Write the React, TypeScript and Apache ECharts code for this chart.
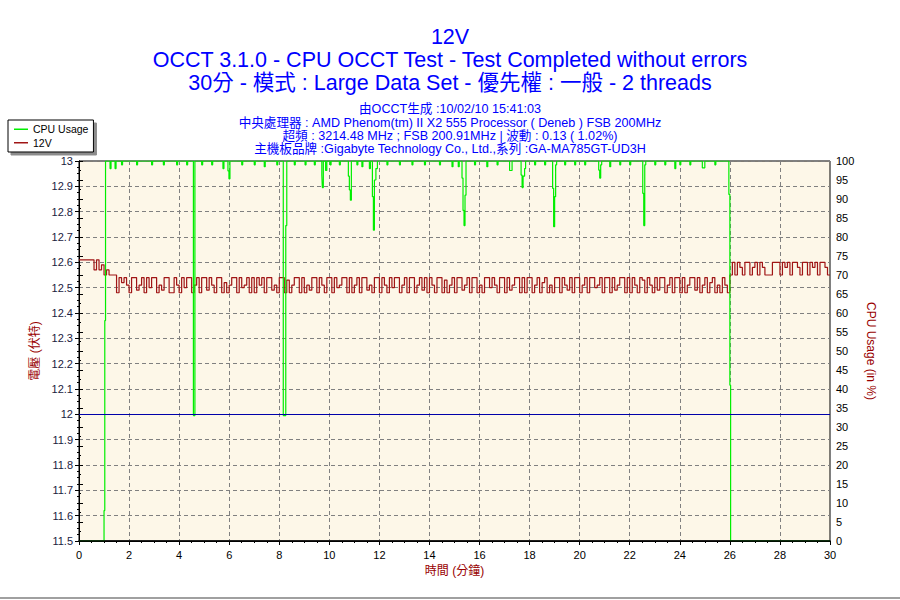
import React, { useEffect, useRef } from "react";
import * as echarts from "echarts";

const FONT = '"Liberation Sans", Arial, "Noto Sans CJK TC", sans-serif';

const titleLines = [
  "12V",
  "OCCT 3.1.0 - CPU OCCT Test - Test Completed without errors",
  "30分 - 模式 : Large Data Set - 優先權 : 一般 - 2 threads",
];
const infoLines = [
  "由OCCT生成 :10/02/10 15:41:03",
  "中央處理器 : AMD Phenom(tm) II X2 555 Processor ( Deneb ) FSB 200MHz",
  "超頻 : 3214.48 MHz ; FSB 200.91MHz | 波動 : 0.13 ( 1.02%)",
  "主機板品牌 :Gigabyte Technology Co., Ltd.,系列 :GA-MA785GT-UD3H",
];

const seriesNames = ["CPU Usage", "12V"];
const xAxisName = "時間 (分鐘)";
const leftAxisName = "電壓 (伏特)";
const rightAxisName = "CPU Usage (in %)";

// 12V readings, one every 0.1 minute from 0 to 30
const sampleStepMin = 0.1;
const volt12 = [
  12.61, 12.61, 12.61, 12.61, 12.61, 12.61, 12.57, 12.61, 12.57, 12.59,
  12.55, 12.57, 12.55, 12.55, 12.55,
  12.48, 12.54, 12.52, 12.54, 12.51,
  12.48, 12.54, 12.54, 12.49, 12.51, 12.54, 12.48, 12.54, 12.5, 12.54,
  12.54, 12.48, 12.51, 12.49, 12.54, 12.54, 12.48, 12.48, 12.54, 12.51,
  12.48, 12.54, 12.5, 12.54, 12.54, 12.48, 12.51, 12.54, 12.48, 12.54,
  12.54, 12.49, 12.54, 12.51, 12.48, 12.54, 12.54, 12.48, 12.52, 12.48,
  12.51, 12.54, 12.54, 12.48, 12.54, 12.5, 12.51, 12.54, 12.48, 12.54,
  12.48, 12.54, 12.51, 12.54, 12.48, 12.54, 12.54, 12.49, 12.51, 12.48,
  12.54, 12.54, 12.48, 12.53, 12.48, 12.51, 12.54, 12.54, 12.48, 12.54,
  12.48, 12.51, 12.49, 12.54, 12.54, 12.48, 12.54, 12.51, 12.48, 12.54,
  12.54, 12.48, 12.54, 12.5, 12.51, 12.54, 12.54, 12.48, 12.54, 12.48,
  12.51, 12.54, 12.48, 12.54, 12.54, 12.49, 12.51, 12.48, 12.54, 12.54,
  12.48, 12.54, 12.51, 12.48, 12.54, 12.5, 12.54, 12.54, 12.48, 12.51,
  12.54, 12.48, 12.54, 12.54, 12.48, 12.51, 12.54, 12.49, 12.54, 12.48,
  12.54, 12.51, 12.48, 12.54, 12.54, 12.48, 12.53, 12.48, 12.51, 12.54,
  12.48, 12.54, 12.54, 12.49, 12.51, 12.54, 12.48, 12.54, 12.54, 12.48,
  12.51, 12.48, 12.54, 12.54, 12.5, 12.54, 12.51, 12.48, 12.54, 12.54,
  12.48, 12.54, 12.49, 12.51, 12.54, 12.54, 12.48, 12.54, 12.48, 12.54,
  12.54, 12.48, 12.51, 12.54, 12.48, 12.52, 12.54, 12.48, 12.51, 12.48,
  12.54, 12.54, 12.48, 12.54, 12.51, 12.49, 12.54, 12.48, 12.54, 12.54,
  12.48, 12.51, 12.54, 12.48, 12.54, 12.54, 12.5, 12.51, 12.54, 12.48,
  12.54, 12.54, 12.48, 12.54, 12.49, 12.51, 12.54, 12.54, 12.48, 12.54,
  12.48, 12.54, 12.51, 12.48, 12.54, 12.53, 12.48, 12.54, 12.51, 12.48,
  12.54, 12.49, 12.54, 12.54, 12.48, 12.51, 12.54, 12.48, 12.54, 12.54,
  12.48, 12.54, 12.48, 12.51, 12.54, 12.54, 12.49, 12.54, 12.48, 12.51,
  12.54, 12.48, 12.52, 12.54, 12.48, 12.51, 12.48, 12.54, 12.51, 12.48,
  12.55, 12.60, 12.55, 12.60, 12.58, 12.55, 12.60, 12.60, 12.55, 12.58,
  12.60, 12.55, 12.60, 12.58, 12.55, 12.55, 12.55, 12.60, 12.60, 12.60,
  12.55, 12.60, 12.58, 12.60, 12.55, 12.60, 12.60, 12.58, 12.55, 12.60,
  12.60, 12.55, 12.60, 12.58, 12.60, 12.55, 12.60, 12.60, 12.58, 12.55,
  12.55,
];

// CPU usage change points: time (minutes) and value (%)
const cpuTimes = [
  0, 1.0, 1.03, 1.06, 1.24, 1.28, 1.44, 1.48, 1.7, 1.74, 2.3, 2.34, 2.9, 2.94,
  3.37, 3.41, 3.9, 3.94, 4.3, 4.34, 4.57, 4.63, 4.9, 4.94, 5.3, 5.34, 5.75,
  5.79, 5.95, 5.99, 6.03, 6.5, 6.54, 7.0, 7.04, 7.4, 7.44, 7.9, 7.94, 8.16,
  8.26, 8.3, 8.6, 8.64, 9.03, 9.07, 9.4, 9.44, 9.7, 9.72, 9.76, 9.85, 9.9,
  10.03, 10.07, 10.4, 10.44, 10.76, 10.8, 10.84, 10.88, 11.1, 11.14, 11.3,
  11.34, 11.6, 11.64, 11.72, 11.76, 11.8, 11.86, 11.92, 12.3, 12.34, 12.8,
  12.84, 13.3, 13.34, 13.8, 13.84, 14.4, 14.44, 14.9, 14.94, 15.15, 15.19,
  15.3, 15.34, 15.38, 15.42, 15.46, 15.8, 15.84, 16.29, 16.33, 16.7, 16.74,
  17.2, 17.3, 17.66, 17.7, 17.74, 17.8, 17.84, 18.2, 18.24, 18.6, 18.64,
  18.92, 18.96, 19.0, 19.04, 19.08, 19.4, 19.44, 19.8, 19.84, 20.2, 20.24,
  20.76, 20.8, 20.84, 20.88, 21.2, 21.24, 21.6, 21.64, 22.0, 22.04, 22.52,
  22.56, 22.6, 22.64, 23.0, 23.04, 23.4, 23.44, 23.8, 23.84, 24.0, 24.04,
  24.4, 24.44, 24.9, 25.0, 25.4, 25.44, 25.96, 26.0, 26.03, 30,
];
const cpuValues = [
  0, 8, 58, 100, 98, 100, 98, 100, 99, 100, 99, 100, 99, 100,
  99, 100, 99, 100, 99, 100, 33, 100, 99, 100, 99, 100, 98,
  100, 97.4, 95.3, 100, 99, 100, 99, 100, 98.5, 100, 99, 100, 33,
  83, 100, 99, 100, 99, 100, 99, 100, 96.3, 93, 100, 97.5, 100,
  99, 100, 99, 100, 96, 92.4, 89.7, 100, 99, 100, 98.5,
  100, 98, 100, 90.6, 81.8, 95, 98, 100, 99, 100, 99,
  100, 99, 100, 99, 100, 99, 100, 98.5, 100, 98.5, 100,
  95.5, 87, 83, 91, 100, 99, 100, 98.5, 100, 99, 100,
  97.5, 100, 96.3, 93, 96, 98, 100, 99, 100, 99, 100,
  92.8, 82.7, 90.6, 99, 100, 99, 100, 99, 100, 99, 100,
  97.6, 95.5, 99, 100, 98.5, 100, 99, 100, 99, 100, 91.5,
  83, 99, 100, 99, 100, 99, 100, 98, 100, 99, 100,
  99, 100, 98.2, 100, 99, 100, 91.2, 41, 0, 0,
];

const leftTicks = { min: 11.5, max: 13, interval: 0.1 };
const rightTicks = { min: 0, max: 100, interval: 5 };
const xTicks = { min: 0, max: 30, interval: 2 };
const referenceVoltage = 12;

export default function App() {
  const ref = useRef<HTMLDivElement>(null);

  useEffect(() => {
    if (!ref.current) return;
    const chart = echarts.init(ref.current, null, { renderer: "svg" });

    const voltData = volt12.map((v, i) => [+(i * sampleStepMin).toFixed(1), v]);
    const cpuData = cpuTimes.map((t, i) => [t, cpuValues[i]]);

    const titleTops = [26, 49, 72];
    const infoTops = [103, 116.5, 129.5, 142.5];

    const titles: any[] = [
      ...titleLines.map((t, i) => ({
        text: t,
        left: "center",
        top: titleTops[i],
        padding: 0,
        textStyle: { color: "#0000ff", fontSize: 21.5, fontWeight: "normal", fontFamily: FONT },
      })),
      ...infoLines.map((t, i) => ({
        text: t,
        left: "center",
        top: infoTops[i],
        padding: 0,
        textStyle: {
          color: "#0000ff",
          fontSize: 12.6,
          lineHeight: 12.5,
          fontWeight: "normal",
          fontFamily: FONT,
        },
      })),
    ];

    const axisLabelStyle = { color: "#000", fontSize: 11, fontFamily: FONT };
    const nameStyle = { color: "#990000", fontSize: 12, fontFamily: FONT };

    chart.setOption({
      animation: false,
      backgroundColor: "#ffffff",
      title: titles,
      legend: {
        orient: "vertical",
        left: 8,
        top: 120,
        data: seriesNames,
        icon: "rect",
        itemWidth: 14,
        itemHeight: 1.5,
        itemGap: 3,
        padding: [4, 5, 4, 6],
        backgroundColor: "#ffffff",
        borderColor: "#000000",
        borderWidth: 1,
        shadowColor: "rgba(0,0,0,0.45)",
        shadowOffsetX: 3,
        shadowOffsetY: 3,
        shadowBlur: 0,
        textStyle: { color: "#000", fontSize: 10.5, fontFamily: FONT },
      },
      grid: {
        left: 79,
        right: 70,
        top: 161,
        bottom: 59,
        show: true,
        backgroundColor: "#fdf7e8",
        borderColor: "#000",
        borderWidth: 1,
      },
      xAxis: [
        {
          type: "value",
          min: xTicks.min,
          max: xTicks.max,
          interval: xTicks.interval,
          name: xAxisName,
          nameLocation: "middle",
          nameGap: 19,
          nameTextStyle: nameStyle,
          axisLine: { lineStyle: { color: "#000", width: 1 } },
          axisTick: { show: true, length: 4, lineStyle: { color: "#000" } },
          minorTick: { show: true, splitNumber: 4, length: 2, lineStyle: { color: "#000" } },
          axisLabel: { ...axisLabelStyle, margin: 8 },
          splitLine: { show: true, lineStyle: { color: "#808080", type: [4, 3], width: 1 } },
        },
        {
          type: "value",
          position: "bottom",
          min: xTicks.min,
          max: xTicks.max,
          z: 10,
          axisLine: { show: true, lineStyle: { color: "#000", width: 1.5 } },
          axisTick: { show: false },
          axisLabel: { show: false },
          splitLine: { show: false },
        },
      ],
      yAxis: [
        {
          type: "value",
          position: "left",
          min: leftTicks.min,
          max: leftTicks.max,
          interval: leftTicks.interval,
          name: leftAxisName,
          nameLocation: "middle",
          nameGap: 37,
          nameTextStyle: nameStyle,
          axisLine: { show: true, lineStyle: { color: "#000", width: 1 } },
          axisTick: { show: true, length: 4, lineStyle: { color: "#000" } },
          minorTick: { show: true, splitNumber: 4, length: 2, lineStyle: { color: "#000" } },
          axisLabel: {
            ...axisLabelStyle,
            color: "#1a1a40",
            margin: 6,
            formatter: (v: number) => String(parseFloat(v.toFixed(1))),
          },
          splitLine: { show: true, lineStyle: { color: "#808080", type: [4, 3], width: 1 } },
        },
        {
          type: "value",
          position: "right",
          min: rightTicks.min,
          max: rightTicks.max,
          interval: rightTicks.interval,
          name: rightAxisName,
          nameLocation: "middle",
          nameGap: 27,
          nameRotate: -90,
          nameTextStyle: nameStyle,
          axisLine: { show: true, lineStyle: { color: "#000", width: 1 } },
          axisTick: { show: true, length: 4, lineStyle: { color: "#000" } },
          minorTick: { show: true, splitNumber: 2, length: 2, lineStyle: { color: "#000" } },
          axisLabel: { ...axisLabelStyle, margin: 6 },
          splitLine: { show: false },
        },
      ],
      series: [
        {
          name: seriesNames[1],
          type: "line",
          yAxisIndex: 0,
          step: "end",
          data: voltData,
          showSymbol: false,
          symbol: "none",
          color: "#a01515",
          lineStyle: { color: "#a01515", width: 1.2 },
          markLine: {
            silent: true,
            symbol: "none",
            label: { show: false },
            lineStyle: { color: "#0000aa", type: "solid", width: 1 },
            data: [{ yAxis: referenceVoltage }],
          },
        },
        {
          name: seriesNames[0],
          type: "line",
          yAxisIndex: 1,
          step: "end",
          data: cpuData,
          showSymbol: false,
          symbol: "none",
          color: "#00ee00",
          lineStyle: { color: "#00ee00", width: 1.2 },
        },
      ],
      graphic: [
        {
          type: "line",
          shape: { x1: 0, y1: 598, x2: 900, y2: 598 },
          style: { stroke: "#a0a0a0", lineWidth: 2 },
          silent: true,
        },
      ],
    });

    return () => chart.dispose();
  }, []);

  return (
    <div
      ref={ref}
      style={{ position: "fixed", left: 0, top: 0, width: 900, height: 600 }}
    />
  );
}
